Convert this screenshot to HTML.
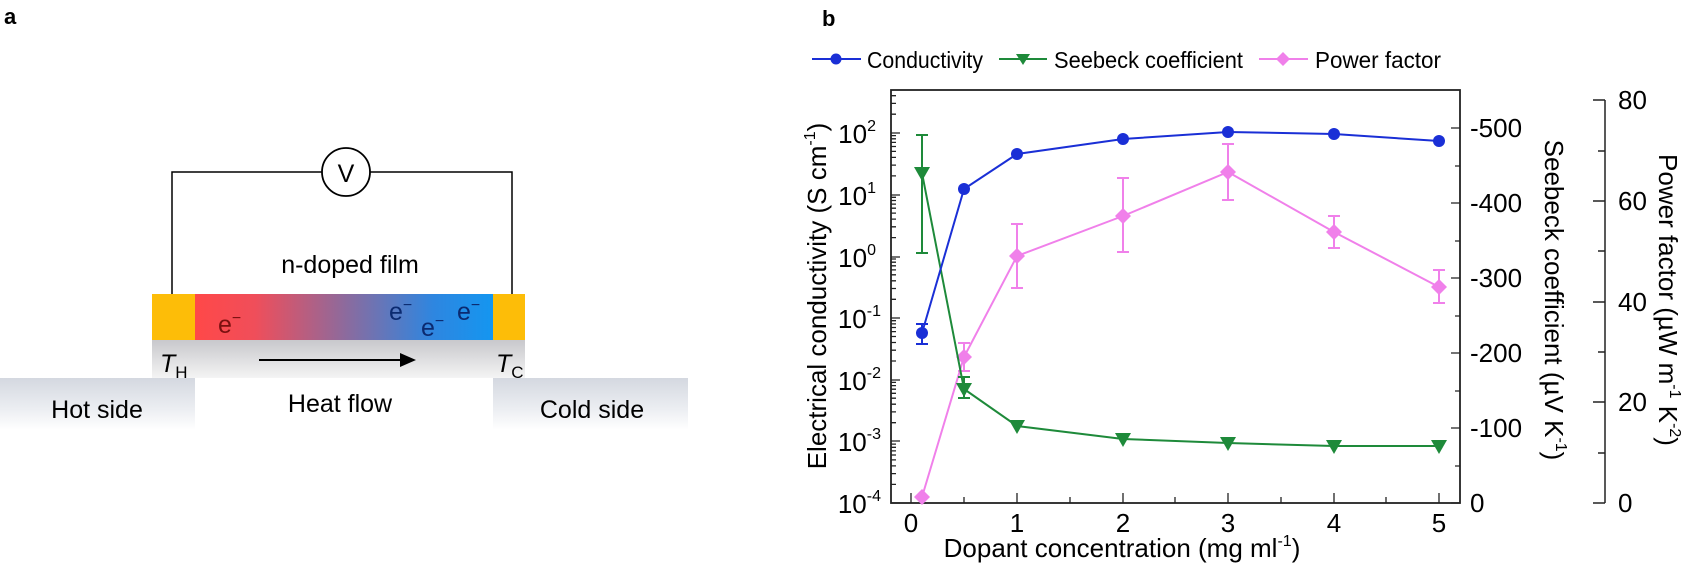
<!DOCTYPE html>
<html><head><meta charset="utf-8"><style>
html,body{margin:0;padding:0;background:#fff;}
svg{display:block;font-family:"Liberation Sans",Arial,sans-serif;}
</style></head><body>
<svg width="1688" height="564" viewBox="0 0 1688 564" xmlns="http://www.w3.org/2000/svg">
<defs>
<linearGradient id="film" x1="0" x2="1" y1="0" y2="0">
<stop offset="0" stop-color="#ff4848"/><stop offset="0.2" stop-color="#f04e5a"/><stop offset="0.5" stop-color="#8e6a9c"/><stop offset="0.8" stop-color="#2e86e0"/><stop offset="1" stop-color="#1496f0"/></linearGradient>
<linearGradient id="grey" x1="0" x2="0" y1="0" y2="1"><stop offset="0" stop-color="#c8c8cc"/><stop offset="1" stop-color="#f4f4f4"/></linearGradient>
<linearGradient id="side" x1="0" x2="0" y1="0" y2="1"><stop offset="0" stop-color="#d4d8e0"/><stop offset="0.6" stop-color="#eceef2"/><stop offset="1" stop-color="#ffffff"/></linearGradient>
</defs>
<!-- panel a -->
<text x="4" y="24" font-size="22" font-weight="bold">a</text>
<polyline points="172,294 172,172 512,172 512,294" fill="none" stroke="#000" stroke-width="1.5"/>
<circle cx="346" cy="172" r="24" fill="#fff" stroke="#000" stroke-width="1.8"/>
<text x="346" y="182" font-size="25" text-anchor="middle">V</text>
<text x="350" y="273" font-size="25" text-anchor="middle">n-doped film</text>
<rect x="152" y="340" width="373" height="38" fill="url(#grey)"/>
<rect x="0" y="378" width="195" height="52" fill="url(#side)"/>
<rect x="493" y="378" width="195" height="52" fill="url(#side)"/>
<rect x="152" y="294" width="43" height="46" fill="#fdbd08"/>
<rect x="195" y="294" width="298" height="46" fill="url(#film)"/>
<rect x="493" y="294" width="32" height="46" fill="#fdbd08"/>
<text x="218" y="333" font-size="25" fill="#7a1010">e<tspan font-size="16" dy="-10">−</tspan></text>
<text x="389" y="320" font-size="25" fill="#0b2a70">e<tspan font-size="16" dy="-10">−</tspan></text>
<text x="421" y="336" font-size="25" fill="#0b2a70">e<tspan font-size="16" dy="-10">−</tspan></text>
<text x="457" y="320" font-size="25" fill="#0b2a70">e<tspan font-size="16" dy="-10">−</tspan></text>
<text x="160" y="372" font-size="25" font-style="italic">T<tspan font-style="normal" font-size="17" dy="6">H</tspan></text>
<text x="496" y="372" font-size="25" font-style="italic">T<tspan font-style="normal" font-size="17" dy="6">C</tspan></text>
<line x1="259" y1="360" x2="400" y2="360" stroke="#000" stroke-width="2"/>
<polygon points="400,353 416,360 400,367" fill="#000"/>
<text x="340" y="412" font-size="25" text-anchor="middle">Heat flow</text>
<text x="97" y="418" font-size="25" text-anchor="middle">Hot side</text>
<text x="592" y="418" font-size="25" text-anchor="middle">Cold side</text>

<!-- panel b -->
<text x="822" y="26" font-size="22" font-weight="bold">b</text>
<!-- legend -->
<line x1="812" y1="59" x2="861" y2="59" stroke="#1a2fd6" stroke-width="2"/><circle cx="836" cy="59" r="5.5" fill="#1a2fd6"/>
<text x="867" y="68" font-size="23" textLength="116" lengthAdjust="spacingAndGlyphs">Conductivity</text>
<line x1="999" y1="59" x2="1047" y2="59" stroke="#1e8a3a" stroke-width="2"/><polygon points="1016,54 1030,54 1023,65" fill="#1e8a3a"/>
<text x="1054" y="68" font-size="23" textLength="189" lengthAdjust="spacingAndGlyphs">Seebeck coefficient</text>
<line x1="1259" y1="59" x2="1308" y2="59" stroke="#f080ea" stroke-width="2"/><polygon points="1283,52 1290,59 1283,66 1276,59" fill="#f080ea"/>
<text x="1315" y="68" font-size="23" textLength="126" lengthAdjust="spacingAndGlyphs">Power factor</text>

<!-- frame -->
<rect x="891" y="90" width="569" height="413" fill="none" stroke="#222" stroke-width="1.8"/>
<!-- left log ticks -->
<g stroke="#222" stroke-width="1.3">
<path d="M891 133h9M891 195h9M891 257h9M891 318h9M891 380h9M891 441h9M891 503h9"/>
<path d="M891 484.4h5M891 473.6h5M891 465.9h5M891 459.9h5M891 455h5M891 450.9h5M891 447.3h5M891 444.1h5
M891 422.7h5M891 411.9h5M891 404.2h5M891 398.2h5M891 393.3h5M891 389.2h5M891 385.6h5M891 382.4h5
M891 361h5M891 350.2h5M891 342.5h5M891 336.5h5M891 331.6h5M891 327.5h5M891 323.9h5M891 320.7h5
M891 299.3h5M891 288.5h5M891 280.8h5M891 274.8h5M891 269.9h5M891 265.8h5M891 262.2h5M891 259h5
M891 237.6h5M891 226.8h5M891 219.1h5M891 213.1h5M891 208.2h5M891 204.1h5M891 200.5h5M891 197.3h5
M891 175.9h5M891 165.1h5M891 157.4h5M891 151.4h5M891 146.5h5M891 142.4h5M891 138.8h5M891 135.6h5
M891 114.2h5M891 103.4h5M891 95.7h5"/>
</g>
<g font-size="26" text-anchor="end">
<text x="876" y="143">10<tspan font-size="16" dy="-12">2</tspan></text>
<text x="876" y="205">10<tspan font-size="16" dy="-12">1</tspan></text>
<text x="876" y="267">10<tspan font-size="16" dy="-12">0</tspan></text>
<text x="881" y="328">10<tspan font-size="16" dy="-12">-1</tspan></text>
<text x="881" y="390">10<tspan font-size="16" dy="-12">-2</tspan></text>
<text x="881" y="451">10<tspan font-size="16" dy="-12">-3</tspan></text>
<text x="881" y="513">10<tspan font-size="16" dy="-12">-4</tspan></text>
</g>
<text transform="translate(826,296) rotate(-90)" font-size="26" text-anchor="middle">Electrical conductivity (S cm<tspan font-size="16" dy="-11">-1</tspan><tspan dy="11">)</tspan></text>
<!-- x ticks -->
<g stroke="#222" stroke-width="1.3">
<path d="M911 503v-10M1017 503v-10M1123 503v-10M1228 503v-10M1334 503v-10M1439 503v-10M964 503v-6M1070 503v-6M1175 503v-6M1281 503v-6M1386 503v-6"/>
</g>
<g font-size="26" text-anchor="middle">
<text x="911" y="532">0</text><text x="1017" y="532">1</text><text x="1123" y="532">2</text><text x="1228" y="532">3</text><text x="1334" y="532">4</text><text x="1439" y="532">5</text>
</g>
<text x="1122" y="557" font-size="26" text-anchor="middle">Dopant concentration (mg ml<tspan font-size="16" dy="-11">-1</tspan><tspan dy="11">)</tspan></text>
<!-- seebeck axis ticks -->
<g stroke="#222" stroke-width="1.3">
<path d="M1460 503h-9M1460 428h-9M1460 353h-9M1460 278h-9M1460 203h-9M1460 128h-9M1460 466h-5M1460 391h-5M1460 316h-5M1460 241h-5M1460 166h-5"/>
</g>
<g font-size="26">
<text x="1470" y="512">0</text><text x="1470" y="437">-100</text><text x="1470" y="362">-200</text><text x="1470" y="287">-300</text><text x="1470" y="212">-400</text><text x="1470" y="137">-500</text>
</g>
<text transform="translate(1545,300) rotate(90)" font-size="26" text-anchor="middle">Seebeck coefficient (µV K<tspan font-size="16" dy="-11">-1</tspan><tspan dy="11">)</tspan></text>
<!-- power factor axis -->
<g stroke="#222" stroke-width="1.5">
<line x1="1605" y1="100" x2="1605" y2="503"/>
<path d="M1605 503h-12M1605 402h-12M1605 302h-12M1605 201h-12M1605 100h-12M1605 453h-7M1605 352h-7M1605 251h-7M1605 151h-7"/>
</g>
<g font-size="26">
<text x="1618" y="512">0</text><text x="1618" y="411">20</text><text x="1618" y="311">40</text><text x="1618" y="210">60</text><text x="1618" y="109">80</text>
</g>
<text transform="translate(1659,300) rotate(90)" font-size="26" text-anchor="middle">Power factor (µW m<tspan font-size="16" dy="-11">-1</tspan><tspan dy="11"> K</tspan><tspan font-size="16" dy="-11">-2</tspan><tspan dy="11">)</tspan></text>

<!-- power factor series -->
<g stroke="#f080ea" stroke-width="2" fill="none">
<polyline points="922,497 964,357 1017,256 1123,216 1228,172 1334,232 1439,287"/>
<path d="M964 343v28M958 343h12M958 371h12 M1017 224v64M1011 224h12M1011 288h12 M1123 178v74M1117 178h12M1117 252h12 M1228 144v56M1222 144h12M1222 200h12 M1334 216v32M1328 216h12M1328 248h12 M1439 270v33M1433 270h12M1433 303h12"/>
</g>
<g fill="#f080ea">
<polygon points="922,489 930,497 922,505 914,497"/><polygon points="964,349 972,357 964,365 956,357"/><polygon points="1017,248 1025,256 1017,264 1009,256"/><polygon points="1123,208 1131,216 1123,224 1115,216"/><polygon points="1228,164 1236,172 1228,180 1220,172"/><polygon points="1334,224 1342,232 1334,240 1326,232"/><polygon points="1439,279 1447,287 1439,295 1431,287"/>
</g>
<!-- seebeck series -->
<g stroke="#1e8a3a" stroke-width="2" fill="none">
<polyline points="922,173 964,389 1017,426 1123,439 1228,443 1334,446 1439,446"/>
<path d="M922 135v118M916 135h12M916 253h12 M964 377v21M958 377h12M958 398h12"/>
</g>
<g fill="#1e8a3a">
<polygon points="914,167 930,167 922,181"/><polygon points="956,383 972,383 964,397"/><polygon points="1009,420 1025,420 1017,434"/><polygon points="1115,433 1131,433 1123,447"/><polygon points="1220,437 1236,437 1228,451"/><polygon points="1326,440 1342,440 1334,454"/><polygon points="1431,440 1447,440 1439,454"/>
</g>
<!-- conductivity series -->
<g stroke="#1a2fd6" stroke-width="2" fill="none">
<polyline points="922,333 964,189 1017,154 1123,139 1228,132 1334,134 1439,141"/>
<path d="M922 324v20M916 324h12M916 344h12"/>
</g>
<g fill="#1a2fd6">
<circle cx="922" cy="333" r="6"/><circle cx="964" cy="189" r="6"/><circle cx="1017" cy="154" r="6"/><circle cx="1123" cy="139" r="6"/><circle cx="1228" cy="132" r="6"/><circle cx="1334" cy="134" r="6"/><circle cx="1439" cy="141" r="6"/>
</g>
</svg>
</body></html>
